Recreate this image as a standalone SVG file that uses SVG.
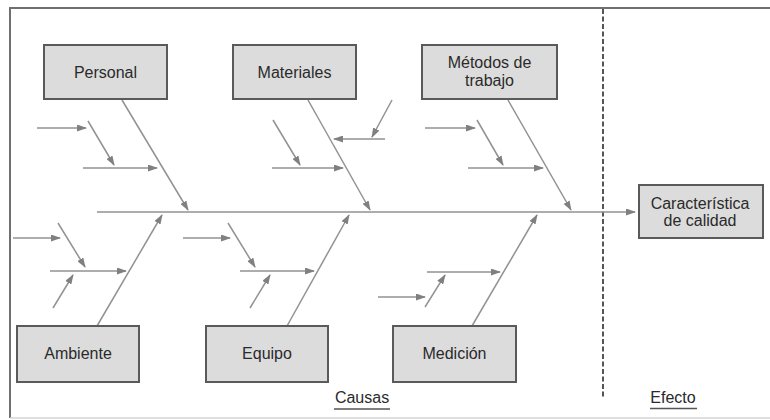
<svg xmlns="http://www.w3.org/2000/svg" width="770" height="420" viewBox="0 0 770 420">
<defs>
<marker id="ah" markerWidth="10" markerHeight="7" refX="9" refY="3.5" orient="auto" markerUnits="userSpaceOnUse">
<path d="M0,0 L10,3.5 L0,7 z" fill="#808080"/>
</marker>
</defs>
<style>
.box{fill:#dcdcdc;stroke:#5a5a5a;stroke-width:2}
.lbl{font-family:"Liberation Sans",Arial,sans-serif;font-size:16px;fill:#2a2a2a;text-anchor:middle}
.ar{stroke:#929292;stroke-width:1.5;fill:none;marker-end:url(#ah)}
.frame{stroke:#707070;stroke-width:2;fill:none}
</style>
<rect width="770" height="420" fill="#ffffff"/>
<g id="frame">
<path class="frame" d="M10,418 L10,8 L770,8"/>
<line x1="10" y1="418" x2="770" y2="418" stroke="#d4d4d4" stroke-width="1.5"/>
<line x1="603" y1="9" x2="603" y2="397" stroke="#555" stroke-width="2" stroke-dasharray="5,2.5"/>
</g>
<g id="connectors">
<line class="ar" x1="97" y1="212" x2="635" y2="212"/>
<line class="ar" x1="122" y1="100" x2="188" y2="210"/>
<line class="ar" x1="308" y1="100" x2="370" y2="210"/>
<line class="ar" x1="508" y1="100" x2="571" y2="210"/>
<line class="ar" x1="97" y1="326" x2="162" y2="215"/>
<line class="ar" x1="287" y1="326" x2="349" y2="215"/>
<line class="ar" x1="472" y1="326" x2="537" y2="215"/>
<line class="ar" x1="37" y1="128" x2="86" y2="128"/>
<line class="ar" x1="88" y1="121" x2="114" y2="165"/>
<line class="ar" x1="83" y1="168" x2="157" y2="168"/>
<line class="ar" x1="273" y1="120" x2="300" y2="165"/>
<line class="ar" x1="272" y1="168" x2="343" y2="168"/>
<line class="ar" x1="392" y1="100" x2="372" y2="137"/>
<line class="ar" x1="385" y1="139" x2="334" y2="139"/>
<line class="ar" x1="425" y1="128" x2="475" y2="128"/>
<line class="ar" x1="477" y1="120" x2="503" y2="165"/>
<line class="ar" x1="468" y1="168" x2="543" y2="168"/>
<line class="ar" x1="13" y1="238" x2="60" y2="238"/>
<line class="ar" x1="58" y1="223" x2="85" y2="267"/>
<line class="ar" x1="50" y1="271" x2="126" y2="271"/>
<line class="ar" x1="53" y1="308" x2="73" y2="275"/>
<line class="ar" x1="183" y1="238" x2="230" y2="238"/>
<line class="ar" x1="228" y1="223" x2="255" y2="267"/>
<line class="ar" x1="240" y1="271" x2="314" y2="271"/>
<line class="ar" x1="250" y1="308" x2="270" y2="275"/>
<line class="ar" x1="427" y1="272" x2="500" y2="272"/>
<line class="ar" x1="378" y1="297" x2="425" y2="297"/>
<line class="ar" x1="425" y1="307" x2="445" y2="275"/>
</g>
<g id="personal"><rect class="box" x="44" y="45" width="123" height="54"/><text class="lbl" x="105.5" y="77.5">Personal</text></g>
<g id="materiales"><rect class="box" x="233" y="45" width="123" height="54"/><text class="lbl" x="294.5" y="77.5">Materiales</text></g>
<g id="metodos"><rect class="box" x="422" y="45" width="135" height="54"/><text class="lbl" x="489.5" y="68">Métodos de</text><text class="lbl" x="489.5" y="86">trabajo</text></g>
<g id="ambiente"><rect class="box" x="17" y="326" width="122" height="56"/><text class="lbl" x="78" y="359">Ambiente</text></g>
<g id="equipo"><rect class="box" x="206" y="326" width="122" height="56"/><text class="lbl" x="267" y="359">Equipo</text></g>
<g id="medicion"><rect class="box" x="393" y="326" width="123" height="56"/><text class="lbl" x="454.5" y="359">Medición</text></g>
<g id="caracteristica"><rect class="box" x="639" y="185" width="124" height="53"/><text class="lbl" x="700" y="209">Característica</text><text class="lbl" x="700" y="226">de calidad</text></g>
<g id="labels">
<text class="lbl" x="362" y="403">Causas</text>
<line x1="334" y1="409" x2="390" y2="409" stroke="#555" stroke-width="1.5"/>
<text class="lbl" x="673" y="403">Efecto</text>
<line x1="650" y1="408.5" x2="697" y2="408.5" stroke="#555" stroke-width="1.5"/>
</g>
</svg>
